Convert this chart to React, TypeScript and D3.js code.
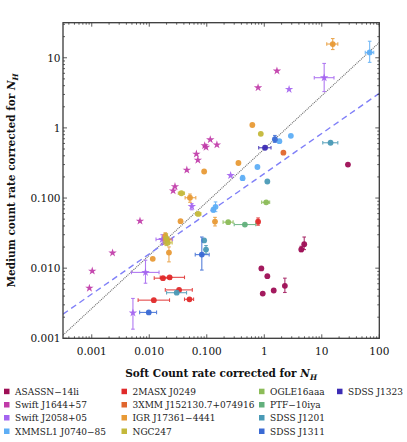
import React from "react";
import * as d3 from "d3";

type P = { x: number; y: number; xl?: number; xh?: number; yl?: number; yh?: number };

const asassn14li: P[] = [
  { x: 28.5, y: 0.30 },
  { x: 4.4, y: 0.0185, yl: 0.0172, yh: 0.0205 },
  { x: 4.95, y: 0.022, yl: 0.0184, yh: 0.0278 },
  { x: 0.89, y: 0.0099 },
  { x: 1.13, y: 0.0077 },
  { x: 0.94, y: 0.00434 },
  { x: 1.46, y: 0.0048 },
  { x: 2.28, y: 0.0056, yl: 0.0045, yh: 0.0072 },
];
const swiftJ1644: P[] = [
  { x: 1.66, y: 6.5 }, { x: 0.78, y: 3.75 }, { x: 0.115, y: 0.68 }, { x: 0.092, y: 0.56 },
  { x: 0.097, y: 0.53 }, { x: 0.15, y: 0.575 }, { x: 0.066, y: 0.424 }, { x: 0.07, y: 0.348 },
  { x: 0.045, y: 0.251 }, { x: 0.028, y: 0.146 }, { x: 0.026, y: 0.127 }, { x: 0.0069, y: 0.047 },
  { x: 0.0023, y: 0.0165 }, { x: 0.00102, y: 0.0091 }, { x: 0.00091, y: 0.0052 },
];
const swiftJ2058: P[] = [
  { x: 2.7, y: 3.55 },
  { x: 11, y: 5.2, xl: 7.4, xh: 16.3, yl: 3.3, yh: 8.3 },
  { x: 0.26, y: 0.21 },
  { x: 0.055, y: 0.076, yl: 0.068, yh: 0.083 },
  { x: 0.0168, y: 0.0257, xl: 0.0131, xh: 0.0254, yl: 0.022, yh: 0.03 },
  { x: 0.0086, y: 0.0087, xl: 0.0049, xh: 0.0148, yl: 0.0061, yh: 0.013 },
  { x: 0.0052, y: 0.0023, yl: 0.00135, yh: 0.0037 },
];
const xmmsl1: P[] = [
  { x: 68, y: 11.9, xl: 57, xh: 80, yl: 8.6, yh: 17.2 },
  { x: 2.9, y: 0.77 }, { x: 1.83, y: 0.646 }, { x: 0.76, y: 0.277 },
  { x: 0.42, y: 0.192, yl: 0.178, yh: 0.21 },
  { x: 0.13, y: 0.068, yl: 0.063, yh: 0.073 },
  { x: 0.142, y: 0.075, yl: 0.064, yh: 0.088 },
];
const twoMasx: P[] = [
  { x: 0.78, y: 0.046, yl: 0.041, yh: 0.052 },
  { x: 0.0173, y: 0.0072, xl: 0.0122, xh: 0.024 },
  { x: 0.0226, y: 0.0074, xl: 0.0155, xh: 0.041 },
  { x: 0.033, y: 0.0049, xl: 0.019, xh: 0.056 },
  { x: 0.05, y: 0.0036, xl: 0.041, xh: 0.059 },
  { x: 0.012, y: 0.0035, xl: 0.0064, xh: 0.0225 },
];
const threeXmm: P[] = [{ x: 2.15, y: 0.443 }];
const igr: P[] = [
  { x: 15.5, y: 15.7, xl: 12.2, xh: 19, yl: 13.1, yh: 18.8 },
  { x: 0.62, y: 1.1 }, { x: 0.355, y: 0.316 }, { x: 0.09, y: 0.239 },
  { x: 0.051, y: 0.101, xl: 0.042, xh: 0.0645, yl: 0.087, yh: 0.114 },
  { x: 0.035, y: 0.0468 },
  { x: 0.139, y: 0.0462, yl: 0.04, yh: 0.053 },
  { x: 0.022, y: 0.0167, yl: 0.0123, yh: 0.0201 },
  { x: 0.0115, y: 0.0136 },
  { x: 0.019, y: 0.0288, yl: 0.022, yh: 0.032 },
  { x: 0.0205, y: 0.0255, xl: 0.0175, xh: 0.024 },
];
const ngc247: P[] = [
  { x: 0.87, y: 0.822 },
  { x: 0.0362, y: 0.117, xl: 0.032, xh: 0.041 },
  { x: 0.071, y: 0.0594, xl: 0.064, xh: 0.079 },
  { x: 0.0198, y: 0.0265, yl: 0.021, yh: 0.031 },
  { x: 0.021, y: 0.023, xl: 0.018, xh: 0.025 },
];
const ogle16aaa: P[] = [
  { x: 1.08, y: 0.087, xl: 0.9, xh: 1.24 },
  { x: 0.236, y: 0.0453, xl: 0.192, xh: 0.287 },
];
const ptf10iya: P[] = [{ x: 0.46, y: 0.0419, xl: 0.3, xh: 0.71 }];
const sdssJ1201: P[] = [
  { x: 14.2, y: 0.614, xl: 10.4, xh: 19 },
  { x: 1.13, y: 0.172 },
  { x: 0.09, y: 0.0249 },
  { x: 0.097, y: 0.0184, yl: 0.016, yh: 0.021 },
  { x: 0.03, y: 0.00447, xl: 0.02, xh: 0.0445 },
];
const sdssJ1311: P[] = [
  { x: 1.53, y: 0.69, yl: 0.62, yh: 0.78 },
  { x: 0.082, y: 0.0156, xl: 0.063, xh: 0.11, yl: 0.0094, yh: 0.0278 },
  { x: 0.0098, y: 0.00234, xl: 0.0068, xh: 0.0134 },
];
const sdssJ1323: P[] = [{ x: 1.03, y: 0.521, xl: 0.8, xh: 1.31 }];

const seriesNames = [
  "ASASSN−14li", "Swift J1644+57", "Swift J2058+05", "XMMSL1 J0740−85",
  "2MASX J0249", "3XMM J152130.7+074916", "IGR J17361−4441", "NGC247",
  "OGLE16aaa", "PTF−10iya", "SDSS J1201", "SDSS J1311", "SDSS J1323",
];
const seriesData = [
  asassn14li, swiftJ1644, swiftJ2058, xmmsl1, twoMasx, threeXmm, igr, ngc247,
  ogle16aaa, ptf10iya, sdssJ1201, sdssJ1311, sdssJ1323,
];
const seriesColors = [
  "#9e0e55", "#c03aa8", "#a464f0", "#5eaef5", "#e02a2a", "#e0662e", "#e89a36",
  "#c4b83a", "#8cbc58", "#62b07c", "#4a9ab6", "#3a6ad4", "#3c2cb4",
];
const seriesStar = [false, true, true, false, false, false, false, false, false, false, false, false, false];

const xTicks = [0.001, 0.01, 0.1, 1, 10, 100];
const xTickLabels = ["0.001", "0.010", "0.100", "1", "10", "100"];
const yTicks = [0.001, 0.01, 0.1, 1, 10];
const yTickLabels = ["0.001", "0.010", "0.100", "1", "10"];

// fit lines: log y = a + b log x
const dottedFit = { a: -0.299, b: 0.7586 };
const dashedFit = { a: -0.652, b: 0.5725 };

const W = 407, H = 442;
const L = 63, R = 379.3, T = 22.7, B = 338.3;

export default function App() {
  const x = d3.scaleLog().domain([Math.pow(10, -3.5), 100]).range([L, R]);
  const y = d3.scaleLog().domain([0.001, Math.pow(10, 1.5)]).range([B, T]);

  const minorX: number[] = [];
  for (let e = -4; e <= 2; e++) for (let m = 1; m <= 9; m++) {
    const v = m * Math.pow(10, e);
    if (v >= x.domain()[0] * 0.999 && v <= 100.001) minorX.push(v);
  }
  const minorY: number[] = [];
  for (let e = -3; e <= 1; e++) for (let m = 1; m <= 9; m++) {
    const v = m * Math.pow(10, e);
    if (v >= 0.000999 && v <= y.domain()[1]) minorY.push(v);
  }
  const isMajor = (v: number) => Math.abs(Math.log10(v) - Math.round(Math.log10(v))) < 1e-6;

  const lineGen = (fit: { a: number; b: number }) => {
    const xs = d3.range(0, 41).map((i) => Math.pow(10, -3.5 + (5.5 * i) / 40));
    const pts = xs.map((v) => [x(v), y(Math.pow(10, fit.a + fit.b * Math.log10(v)))] as [number, number]);
    return d3.line()(pts) || "";
  };

  const star = d3.symbol().type(d3.symbolStar).size(22)() || "";
  const font = "'DejaVu Serif', serif";
  const tickFont = "'DejaVu Serif', serif";
  const cap = 1.8;

  const legendCols = [4, 121.5, 259, 337];
  const legendRows = [391.7, 405, 418, 431.5];
  const legendLayout = [
    [0, 0], [0, 1], [0, 2], [0, 3],
    [1, 0], [1, 1], [1, 2], [1, 3],
    [2, 0], [2, 1], [2, 2], [2, 3],
    [3, 0],
  ];

  return (
    <svg width={W} height={H} style={{ position: "absolute", left: 0, top: 0, background: "#fff" }}>
      <defs>
        <clipPath id="plotclip">
          <rect x={L} y={T} width={R - L} height={B - T} />
        </clipPath>
      </defs>
      <g clipPath="url(#plotclip)">
        <path d={lineGen(dottedFit)} fill="none" stroke="#6a6a6a" strokeWidth={1.1} strokeDasharray="1,1" />
        <path d={lineGen(dashedFit)} fill="none" stroke="#8080f8" strokeWidth={1.4} strokeDasharray="6,4" />
        {seriesData.map((data, si) => (
          <g key={si}>
            {data.map((p, pi) => {
              const c = seriesColors[si];
              const cx = x(p.x), cy = y(p.y);
              return (
                <g key={pi}>
                  {p.xl !== undefined && p.xh !== undefined && (
                    <g stroke={c} strokeWidth={1.1} opacity={0.85}>
                      <line x1={x(p.xl)} x2={x(p.xh)} y1={cy} y2={cy} />
                      <line x1={x(p.xl)} x2={x(p.xl)} y1={cy - cap} y2={cy + cap} />
                      <line x1={x(p.xh)} x2={x(p.xh)} y1={cy - cap} y2={cy + cap} />
                    </g>
                  )}
                  {p.yl !== undefined && p.yh !== undefined && (
                    <g stroke={c} strokeWidth={1.1} opacity={0.85}>
                      <line x1={cx} x2={cx} y1={y(p.yl)} y2={y(p.yh)} />
                      <line x1={cx - cap} x2={cx + cap} y1={y(p.yl)} y2={y(p.yl)} />
                      <line x1={cx - cap} x2={cx + cap} y1={y(p.yh)} y2={y(p.yh)} />
                    </g>
                  )}
                  {seriesStar[si] ? (
                    <path d={star} transform={`translate(${cx},${cy})`} fill={c} opacity={0.92} />
                  ) : (
                    <circle cx={cx} cy={cy} r={2.9} fill={c} opacity={0.95} />
                  )}
                </g>
              );
            })}
          </g>
        ))}
      </g>
      {/* ticks */}
      <g stroke="#333" strokeWidth={0.8}>
        {minorX.map((v, i) => {
          const len = isMajor(v) ? 4 : 2;
          const px = x(v);
          return (
            <g key={"mx" + i}>
              <line x1={px} x2={px} y1={B} y2={B - len} />
              <line x1={px} x2={px} y1={T} y2={T + len} />
            </g>
          );
        })}
        {minorY.map((v, i) => {
          const len = isMajor(v) ? 4 : 2;
          const py = y(v);
          return (
            <g key={"my" + i}>
              <line x1={L} x2={L + len} y1={py} y2={py} />
              <line x1={R} x2={R - len} y1={py} y2={py} />
            </g>
          );
        })}
      </g>
      <rect x={L} y={T} width={R - L} height={B - T} fill="none" stroke="#3a3a3a" strokeWidth={1.3} />
      {/* tick labels */}
      <g fontFamily={tickFont} fontSize={10.5} fill="#111">
        {xTicks.map((v, i) => (
          <text key={"xt" + i} x={x(v)} y={355} textAnchor="middle">{xTickLabels[i]}</text>
        ))}
        {yTicks.map((v, i) => (
          <text key={"yt" + i} x={60.5} y={y(v) + 3.8} textAnchor="end">{yTickLabels[i]}</text>
        ))}
      </g>
      {/* axis titles */}
      <text x={(L + R) / 2} y={377} textAnchor="middle" fontFamily={font} fontSize={10.5} fontWeight="bold" fill="#111">
        Soft Count rate corrected for <tspan fontStyle="italic">N</tspan>
        <tspan fontStyle="italic" fontSize={7.5} dy={2.5}>H</tspan>
      </text>
      <text transform={`translate(15,${(T + B) / 2}) rotate(-90)`} textAnchor="middle" fontFamily={font} fontSize={10.5} fontWeight="bold" fill="#111">
        Medium count rate corrected for <tspan fontStyle="italic">N</tspan>
        <tspan fontStyle="italic" fontSize={7.5} dy={2.5}>H</tspan>
      </text>
      {/* legend */}
      <g fontFamily={font} fontSize={9} fill="#222">
        {seriesNames.map((n, i) => {
          const [c, r] = legendLayout[i];
          const lx = legendCols[c], ly = legendRows[r];
          return (
            <g key={"lg" + i}>
              <rect x={lx} y={ly - 3} width={5.5} height={5.5} fill={seriesColors[i]} />
              <text x={lx + 11} y={ly + 3.2}>{n}</text>
            </g>
          );
        })}
      </g>
    </svg>
  );
}
